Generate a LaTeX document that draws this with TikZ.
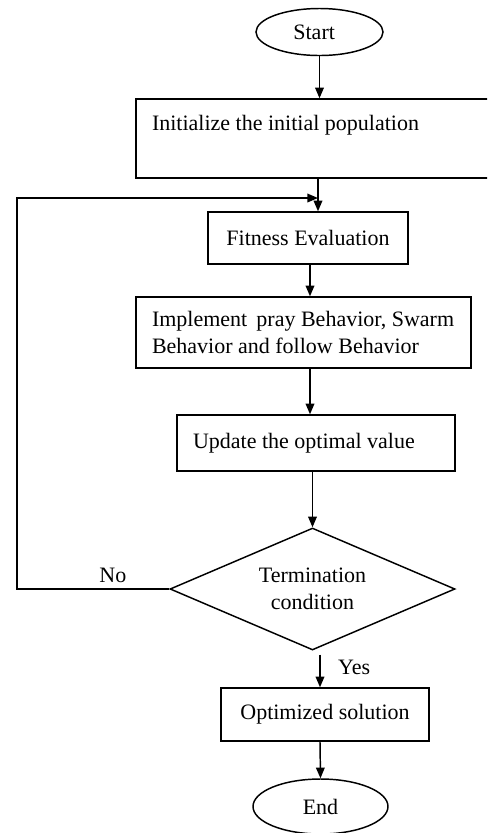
\documentclass[tikz,border=0pt]{standalone}
\usepackage{fontspec}
\setmainfont{Liberation Serif}
\usetikzlibrary{shapes.geometric,arrows.meta}
\begin{document}
\begin{tikzpicture}[x=0.75pt,y=-0.75pt,
  every node/.style={font=\fontsize{16.5}{20}\selectfont},
  box/.style={draw,line width=1.1pt,rectangle,inner sep=0pt},
  term/.style={draw,line width=1.1pt,ellipse,inner sep=0pt},
  dia/.style={draw,line width=1.1pt,diamond,aspect=2.34,inner sep=0pt,align=flush center},
  arr/.style={line width=1.1pt,-{Triangle[length=8pt,width=6.5pt]}},
  lbl/.style={inner sep=1pt}]
\useasboundingbox (0,0) rectangle (487,833);
\clip (0,0) rectangle (487,833);

\node[term,minimum width=95.25pt,minimum height=35.25pt] (start) at (319.5,32) {\hspace*{-8pt}Start};
\node[box,minimum height=59.25pt,text width=245.25pt,inner xsep=12pt,align=flush left] (init) at (315.5,138.5) {Initialize the initial population\\[4pt]\mbox{}};
\node[box,minimum width=150pt,minimum height=39pt] (fit) at (308,238) {Fitness Evaluation};
\node[box,minimum height=53.25pt,text width=227.25pt,inner xsep=12pt,align=flush left] (impl) at (303.5,332.5) {Implement\, pray Behavior, Swarm\\Behavior and follow Behavior};
\node[box,minimum height=42pt,text width=184.5pt,inner xsep=12pt,align=flush left] (upd) at (316,443) {Update the optimal value};
\node[dia,minimum width=213.75pt,minimum height=91.5pt] (dec) at (312.5,589) {Termination\\condition};
\node[box,minimum width=156pt,minimum height=39.75pt] (opt) at (325,714.5) {Optimized solution};
\node[term,minimum width=101.25pt,minimum height=41.25pt] (end) at (320.5,806.5) {End};

\coordinate (j) at (318,198);
\coordinate (cl) at (17,198);
\coordinate (ax) at (310,0);
\coordinate (bx) at (320,0);

\draw[arr] (start.south) -- (start.south |- init.north);
\draw[arr] (init.south -| j) -- (fit.north -| j);
\draw[arr] (dec.west) -- node[lbl,above=3pt,pos=0.37]{No} (dec.west -| cl) -- (cl) -- (j);
\draw[arr] (fit.south -| ax) -- (impl.north -| ax);
\draw[arr] (impl.south -| ax) -- (upd.north -| ax);
\draw[arr] (upd.south -| dec.north) -- (dec.north);
\draw[arr,shorten <=3pt] (dec.south -| bx) -- node[lbl,right=12pt,pos=0.45]{Yes} (opt.north -| bx);
\draw[arr] (opt.south -| bx) -- (end.north);
\end{tikzpicture}
\end{document}
